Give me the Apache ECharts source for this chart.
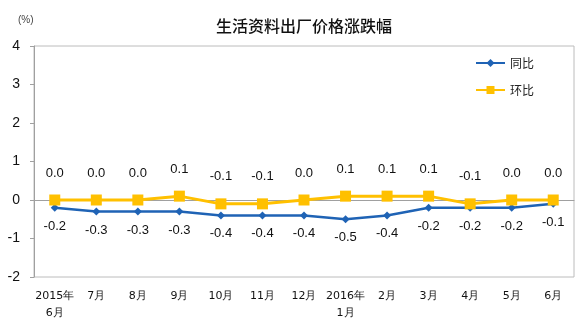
<!DOCTYPE html>
<html>
<head>
<meta charset="utf-8">
<script src="https://cdn.jsdelivr.net/npm/echarts@6/dist/echarts.min.js"></script>
<style>
  html, body { margin: 0; padding: 0; background: #fff; }
  #chart { width: 580px; height: 327px; }
</style>
</head>
<body>
<div id="chart"></div>
<script>
// Month labels along the x axis
const months = ['2015年\n6月', '7月', '8月', '9月', '10月', '11月', '12月',
                '2016年\n1月', '2月', '3月', '4月', '5月', '6月'];
// Year-on-year change (%)
const yoy = [-0.2, -0.3, -0.3, -0.3, -0.4, -0.4, -0.4, -0.5, -0.4, -0.2, -0.2, -0.2, -0.1];
// Month-on-month change (%)
const mom = [0.0, 0.0, 0.0, 0.1, -0.1, -0.1, 0.0, 0.1, 0.1, 0.1, -0.1, 0.0, 0.0];

const font = '"Liberation Sans", Arial, sans-serif';
const cjk = '"Noto Sans CJK SC", sans-serif';

const chart = echarts.init(document.getElementById('chart'));
chart.setOption({
  animation: false,
  backgroundColor: '#fff',
  title: {
    text: '生活资料出厂价格涨跌幅',
    left: 299, textAlign: 'center', top: 13,
    textStyle: { fontFamily: cjk, fontSize: 16, fontWeight: 500, color: '#111' }
  },
  graphic: [{
    type: 'text', left: 18, top: 15,
    style: { text: '(%)', fontFamily: font, fontSize: 10, fill: '#444' }
  }],
  legend: {
    orient: 'vertical', left: 470, top: 52, itemGap: 15,
    itemWidth: 29, itemHeight: 10,
    textStyle: { fontFamily: cjk, fontSize: 12, color: '#222' },
    data: ['同比', '环比']
  },
  grid: {
    left: 34, right: 6, top: 46, bottom: 50,
    show: true, borderColor: '#bcbcbc', borderWidth: 1
  },
  xAxis: {
    type: 'category', data: months, boundaryGap: true,
    axisLine: { lineStyle: { color: '#a0a0a0' } },
    axisTick: { inside: true, length: 4, lineStyle: { color: '#a0a0a0' } },
    axisLabel: { fontFamily: '"DejaVu Sans", sans-serif', fontSize: 11, color: '#111', margin: 11, lineHeight: 17, interval: 0 }
  },
  yAxis: {
    type: 'value', min: -2, max: 4, interval: 1,
    axisLine: { show: true, lineStyle: { color: '#a0a0a0' } },
    axisTick: { show: true, length: 4, lineStyle: { color: '#a0a0a0' } },
    splitLine: { show: false },
    axisLabel: { fontFamily: font, fontSize: 14, color: '#111', margin: 14 }
  },
  series: [
    {
      name: '同比', type: 'line', data: yoy,
      color: '#1f63b5',
      symbol: 'diamond', symbolSize: 8,
      lineStyle: { width: 2.5, color: '#1f63b5' },
      label: {
        show: true, position: 'bottom', distance: 8,
        fontFamily: font, fontSize: 13, color: '#111',
        formatter: p => p.value.toFixed(1)
      },
      z: 2
    },
    {
      name: '环比', type: 'line', data: mom,
      color: '#ffc000',
      symbol: 'rect', symbolSize: 11,
      lineStyle: { width: 3, color: '#ffc000' },
      label: {
        show: true, position: 'top', distance: 15,
        fontFamily: font, fontSize: 13, color: '#111',
        formatter: p => p.value.toFixed(1)
      },
      z: 3
    }
  ]
});
</script>
</body>
</html>
